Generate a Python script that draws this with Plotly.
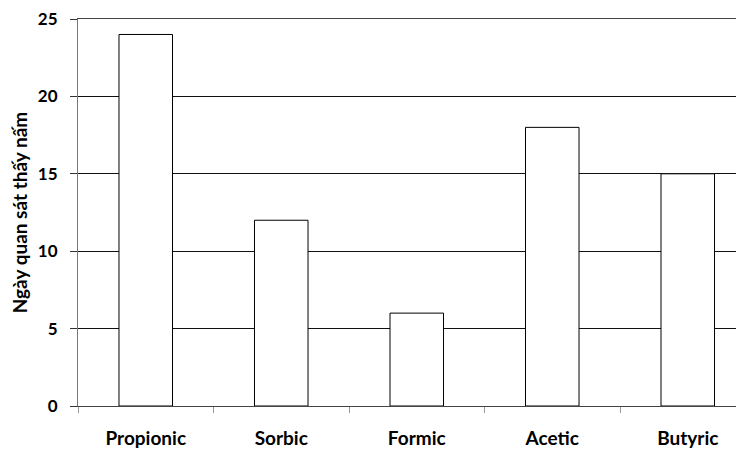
import plotly.graph_objects as go

categories = ["Propionic", "Sorbic", "Formic", "Acetic", "Butyric"]
days = [24, 12, 6, 18, 15]
y_ticks = [0, 5, 10, 15, 20, 25]
title_text = "Thời gian xuất hiện nấm"
y_title = "Ngày quan sát thấy nấm"

FONT = "Lato, 'Open Sans', Arial, sans-serif"

fig = go.Figure()
fig.add_trace(go.Bar(
    x=categories, y=days,
    marker=dict(color="white", line=dict(color="black", width=1)),
    showlegend=False, hoverinfo="x+y",
))

# page body has an 8px margin, so the figure is 8px smaller each way
fig.update_layout(
    width=736, height=441,
    margin=dict(l=70, r=0, t=11, b=43),
    paper_bgcolor="white", plot_bgcolor="white",
    bargap=0.605,
    font=dict(family=FONT, color="black"),
    annotations=[dict(
        text="<b>" + title_text + "</b>", xref="paper", yref="paper",
        x=0.48, y=1, yshift=9, xanchor="center", yanchor="bottom",
        showarrow=False, font=dict(size=20, family=FONT, color="black"),
    )],
)
fig.update_xaxes(
    type="category", range=[-0.5, 4.415], automargin=False,
    showline=True, linecolor="#444", linewidth=1, mirror=True,
    ticks="outside", tickson="boundaries", ticklen=6, tickcolor="#999",
    tickvals=categories, ticktext=["<b>%s</b>" % c for c in categories],
    tickfont=dict(size=19, family=FONT, color="black"),
    ticklabelstandoff=15,
    showgrid=False, zeroline=False,
)
fig.update_yaxes(
    range=[0, 25], automargin=False,
    tickvals=y_ticks, ticktext=["<b>%d</b>" % v for v in y_ticks],
    ticklabeloverflow="allow",
    showline=True, linecolor="#777", linewidth=1,
    ticks="outside", ticklen=7, tickcolor="#333",
    tickfont=dict(size=17, family=FONT, color="black"),
    ticklabelstandoff=9,
    showgrid=True, gridcolor="#111", gridwidth=1, zeroline=False,
    title=dict(text="<b>" + y_title + "</b>", font=dict(size=19, family=FONT, color="black"), standoff=6),
)

fig.write_html("out.html")
